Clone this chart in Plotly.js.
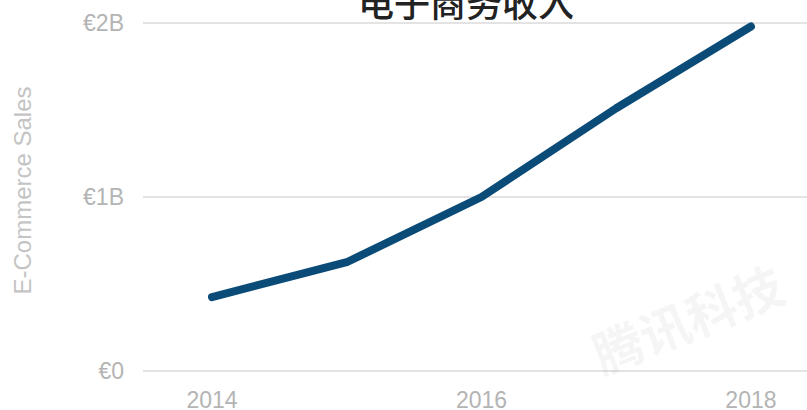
<!DOCTYPE html>
<html>
<head>
<meta charset="utf-8">
<script src="https://cdn.plot.ly/plotly-3.0.1.min.js"></script>
<style>
  html, body { margin: 0; padding: 0; background: #fff; }
  #chart { width: 807px; height: 410px; }
  .scatterlayer path.js-line { stroke-linecap: round !important; stroke-linejoin: round !important; }
</style>
</head>
<body>
<div id="chart"></div>
<script>
const years = [2014, 2015, 2016, 2017, 2018];
const salesEUR = [0.425e9, 0.625e9, 1.0e9, 1.51e9, 1.98e9];
const yTickVals = [0, 1e9, 2e9];
const yTickText = ['€0', '€1B', '€2B'];
const xTickVals = [2014, 2016, 2018];
const xTickText = ['2014', '2016', '2018'];
const chartTitle = '电子商务收入';
const yAxisTitle = 'E-Commerce Sales';
const watermark = '腾讯科技';

const tickFont = { family: 'Liberation Sans, Arial, sans-serif', size: 23, color: '#b4b4b4' };

const trace = {
  x: years,
  y: salesEUR,
  type: 'scatter',
  mode: 'lines',
  line: { color: '#0b4b78', width: 8 },
  hoverinfo: 'skip'
};

const layout = {
  width: 807,
  height: 410,
  margin: { l: 143, r: 0, t: 10, b: 39 },
  paper_bgcolor: '#ffffff',
  plot_bgcolor: '#ffffff',
  showlegend: false,
  title: {
    text: chartTitle,
    font: { family: 'Noto Sans CJK SC, sans-serif', size: 36, color: '#222222', weight: 500 },
    xref: 'container', x: 466 / 807, xanchor: 'center',
    yref: 'container', y: 0.99, yanchor: 'middle'
  },
  xaxis: {
    range: [2013.488, 2018.416],
    tickvals: xTickVals,
    ticktext: xTickText,
    tickfont: tickFont,
    showgrid: false,
    zeroline: false,
    showline: false,
    ticks: '',
    ticklabelstandoff: 13,
    fixedrange: true
  },
  yaxis: {
    range: [0, 2.0746e9],
    tickvals: yTickVals,
    ticktext: yTickText,
    tickfont: tickFont,
    showgrid: true,
    gridcolor: '#e3e3e3',
    gridwidth: 2,
    zeroline: true,
    zerolinecolor: '#e3e3e3',
    zerolinewidth: 2,
    showline: false,
    ticks: '',
    ticklabelstandoff: 18,
    title: {
      text: yAxisTitle,
      standoff: 44,
      font: { family: 'Liberation Sans, Arial, sans-serif', size: 24, color: '#c4c4c4' }
    },
    fixedrange: true
  },
  annotations: [{
    text: watermark,
    xref: 'paper', yref: 'paper',
    x: 0.82, y: 0.15,
    xanchor: 'center', yanchor: 'middle',
    showarrow: false,
    textangle: -22,
    font: { family: 'Noto Sans CJK SC, sans-serif', size: 50, color: 'rgba(0,0,0,0.04)', weight: 700 }
  }]
};

Plotly.newPlot('chart', [trace], layout, { displayModeBar: false, staticPlot: true });
</script>
</body>
</html>
